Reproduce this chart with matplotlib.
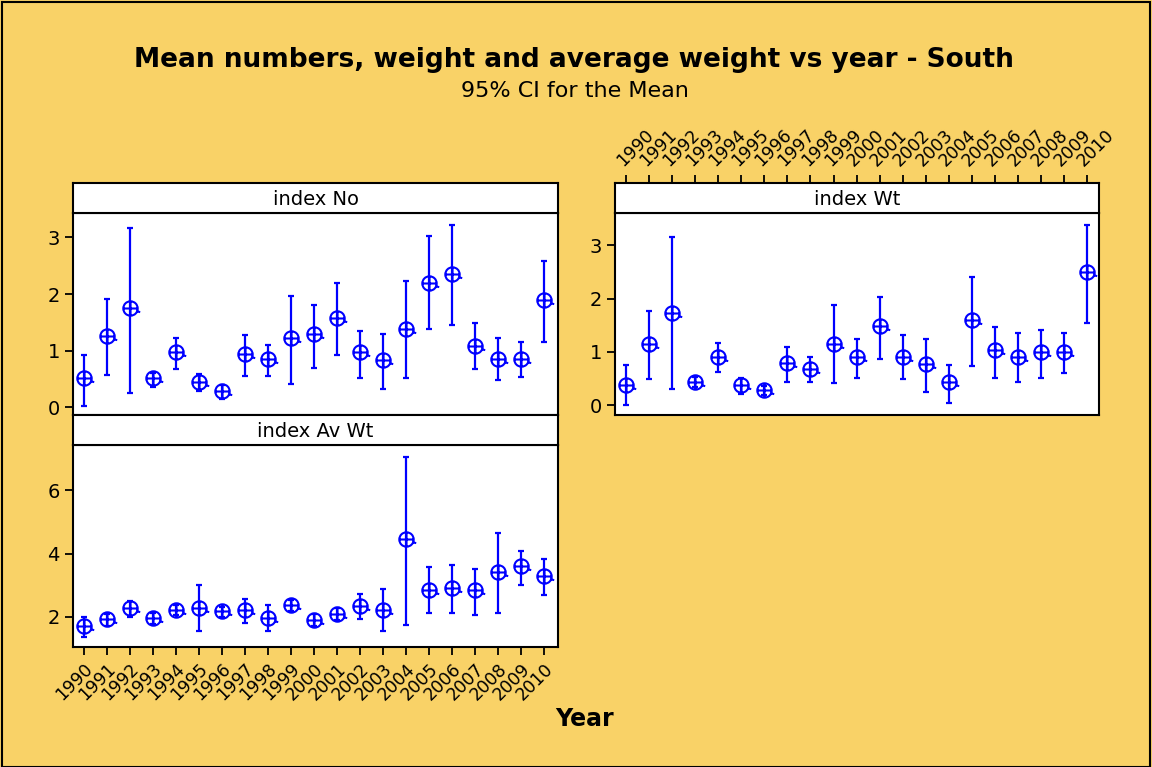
import numpy as np
import matplotlib
matplotlib.use("Agg")
import matplotlib.pyplot as plt
from matplotlib.path import Path
from matplotlib.patches import Rectangle

years = list(range(1990, 2011))

# index No (mean, lower, upper of 95% CI)
no_mean = [0.51, 1.26, 1.75, 0.51, 0.97, 0.45, 0.29, 0.94, 0.86, 1.22, 1.29,
           1.57, 0.97, 0.83, 1.39, 2.20, 2.35, 1.08, 0.86, 0.86, 1.89]
no_low = [0.03, 0.57, 0.25, 0.35, 0.67, 0.28, 0.14, 0.56, 0.56, 0.42, 0.70,
          0.92, 0.52, 0.32, 0.52, 1.38, 1.45, 0.67, 0.49, 0.53, 1.16]
no_up = [0.92, 1.91, 3.17, 0.61, 1.23, 0.59, 0.39, 1.27, 1.10, 1.97, 1.80,
         2.19, 1.34, 1.30, 2.23, 3.03, 3.21, 1.48, 1.23, 1.16, 2.59]

# index Wt
wt_mean = [0.39, 1.15, 1.73, 0.44, 0.91, 0.38, 0.29, 0.80, 0.69, 1.15, 0.91,
           1.48, 0.91, 0.77, 0.43, 1.60, 1.04, 0.91, 0.99, 0.99, 2.49]
wt_low = [0.00, 0.49, 0.30, 0.35, 0.63, 0.22, 0.19, 0.44, 0.44, 0.41, 0.52,
          0.86, 0.49, 0.26, 0.04, 0.74, 0.52, 0.44, 0.52, 0.60, 1.54]
wt_up = [0.75, 1.77, 3.15, 0.54, 1.16, 0.51, 0.37, 1.09, 0.90, 1.88, 1.24,
         2.02, 1.31, 1.24, 0.75, 2.41, 1.46, 1.35, 1.42, 1.35, 3.37]

# index Av Wt
av_mean = [1.72, 1.94, 2.28, 1.97, 2.23, 2.28, 2.17, 2.23, 1.95, 2.36, 1.91,
           2.10, 2.34, 2.23, 4.45, 2.84, 2.92, 2.84, 3.42, 3.62, 3.28]
av_low = [1.35, 1.70, 2.00, 1.79, 2.07, 1.56, 2.00, 1.81, 1.54, 2.18, 1.70,
          1.89, 1.94, 1.54, 1.75, 2.13, 2.13, 2.06, 2.13, 3.01, 2.70]
av_up = [2.00, 2.10, 2.49, 2.13, 2.36, 3.01, 2.32, 2.57, 2.37, 2.53, 2.10,
         2.28, 2.71, 2.89, 7.06, 3.58, 3.65, 3.52, 4.66, 4.09, 3.84]

bg = "#F9D267"
blue = "#0000FF"

# mean symbol: circle with a cross and a little tail
circ = Path.unit_circle()
cross = Path([(-1, 0), (1, 0), (0, -1), (0, 1)],
             [Path.MOVETO, Path.LINETO, Path.MOVETO, Path.LINETO])
tail = Path([(0.85, -0.4), (1.35, -0.5)], [Path.MOVETO, Path.LINETO])
mean_marker = Path.make_compound_path(circ, cross, tail)

fig = plt.figure(figsize=(11.52, 7.67), dpi=100, facecolor=bg)
fig.patches.append(Rectangle((0.002, 0.0), 0.996, 0.998, transform=fig.transFigure,
                             fill=False, edgecolor="black", linewidth=1.5))


def style_axes(ax):
    for s in ax.spines.values():
        s.set_linewidth(1.5)
    ax.tick_params(direction="out", length=6, width=1.3, labelsize=14)


def panel(rect, mean, low, up, ylim, yticks, title, xlim):
    left, bottom, width, height = rect
    ax = fig.add_axes([left, bottom, width, height])
    strip = fig.add_axes([left, bottom + height, width, 0.0391])
    m = np.array(mean)
    err = [m - np.array(low), np.array(up) - m]
    ax.errorbar(years, m, yerr=err, fmt="none", ecolor=blue, elinewidth=1.6,
                capsize=2, capthick=1.6)
    ax.plot(years, m, linestyle="none", marker=mean_marker, markersize=14,
            markerfacecolor="none", markeredgecolor=blue, markeredgewidth=1.5)
    ax.set_xlim(xlim)
    ax.set_ylim(ylim)
    ax.set_yticks(yticks)
    ax.set_xticks(years)
    ax.tick_params(axis="x", bottom=False, labelbottom=False)
    style_axes(ax)
    strip.set_xlim(xlim)
    strip.set_xticks([])
    strip.set_yticks([])
    style_axes(strip)
    strip.text(0.5, 0.45, title, transform=strip.transAxes, ha="center",
               va="center", fontsize=14)
    return ax, strip


ax_no, st_no = panel([0.0634, 0.4589, 0.4210, 0.2634], no_mean, no_low, no_up,
                     (-0.136, 3.43), [0, 1, 2, 3], "index No", (1989.54, 2010.59))
ax_av, st_av = panel([0.0634, 0.1565, 0.4210, 0.2634], av_mean, av_low, av_up,
                     (1.05, 7.43), [2, 4, 6], "index Av Wt", (1989.54, 2010.59))
ax_wt, st_wt = panel([0.5339, 0.4589, 0.4201, 0.2634], wt_mean, wt_low, wt_up,
                     (-0.18, 3.60), [0, 1, 2, 3], "index Wt", (1989.52, 2010.52))

# bottom year labels
ax_av.tick_params(axis="x", bottom=True, labelbottom=True, labelsize=12.5,
                  length=6)
ax_av.set_xticklabels([str(y) for y in years], rotation=45, ha="right",
                      va="top", rotation_mode="anchor")

# top year labels on the Wt strip
st_wt.set_xticks(years)
st_wt.tick_params(axis="x", top=True, labeltop=True, bottom=False,
                  labelbottom=False, labelsize=12.5, direction="out",
                  length=6, width=1.3)
st_wt.set_xticklabels([str(y) for y in years], rotation=45, ha="left",
                      va="bottom", rotation_mode="anchor")

fig.text(0.498, 0.913, "Mean numbers, weight and average weight vs year - South",
         ha="center", va="baseline", fontsize=19, fontweight="bold")
fig.text(0.499, 0.873, "95% CI for the Mean", ha="center", va="baseline", fontsize=16)
fig.text(0.507, 0.053, "Year", ha="center", va="baseline", fontsize=17,
         fontweight="bold")

fig.savefig("out.png", dpi=100, facecolor=bg)
